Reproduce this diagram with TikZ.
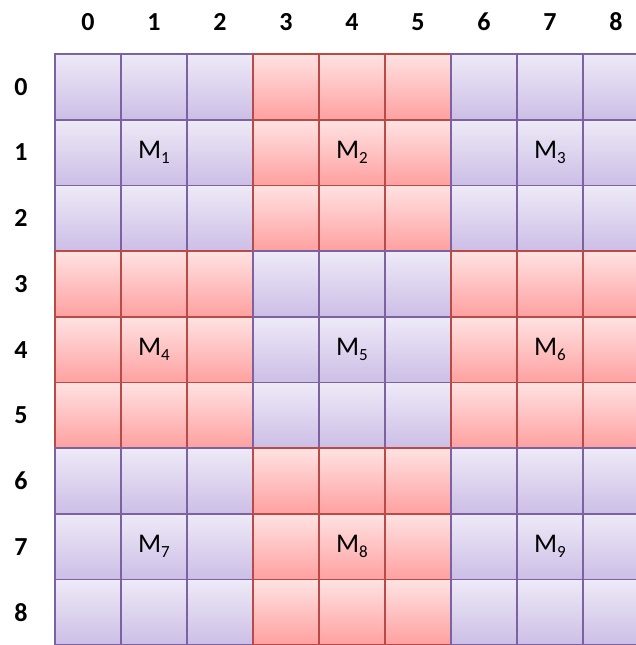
\documentclass[tikz,border=0pt]{standalone}
\usepackage{fontspec}
\setmainfont{Carlito}
\usetikzlibrary{positioning}

\definecolor{violettop}{RGB}{238,234,247}
\definecolor{violetbot}{RGB}{204,190,230}
\definecolor{violetedge}{RGB}{124,98,162}
\definecolor{rosetop}{RGB}{255,226,226}
\definecolor{rosebot}{RGB}{255,160,160}
\definecolor{roseedge}{RGB}{184,74,72}

\newcommand{\mname}[1]{M\raisebox{-5pt}{\fontsize{17}{17}\selectfont #1}}

\begin{document}
\begin{tikzpicture}[
  x=1pt, y=-1pt,
  cell/.style={
    draw=#1edge, line width=1.7pt, top color=#1top, bottom color=#1bot,
    minimum width=66pt, minimum height=65.7pt, inner sep=0pt
  },
  mtext/.style={font=\fontsize{27}{27}\selectfont, inner sep=0pt},
  axis/.style={font=\fontsize{26}{26}\selectfont\bfseries, inner sep=0pt}
]
\useasboundingbox (0,0) rectangle (636,645);

% ----- grille 9x9 -----
\foreach \r in {0,...,8} {
  \foreach \c in {0,...,8} {
    \pgfmathtruncatemacro{\blk}{mod(floor(\r/3)+floor(\c/3),2)}
    \ifnum\blk=0 \def\fam{violet}\else\def\fam{rose}\fi
    \node[cell=\fam] (cell-\r-\c) at ({88+66*\c}, {86.85+65.7*\r}) {};
  }
}

% ----- blocs M -----
\foreach \r/\c/\k in {1/1/1, 1/4/2, 1/7/3, 4/1/4, 4/4/5, 4/7/6, 7/1/7, 7/4/8, 7/7/9}
  \node[mtext] (m\k) at (cell-\r-\c) {\mname{\k}};

% ----- indices -----
\foreach \c in {0,...,8}
  \node[axis] (col\c) at ({88+66*\c}, 22) {\c};
\foreach \r in {0,...,8}
  \node[axis] (row\r) at (21, {86.85+65.7*\r}) {\r};

\end{tikzpicture}
\end{document}
